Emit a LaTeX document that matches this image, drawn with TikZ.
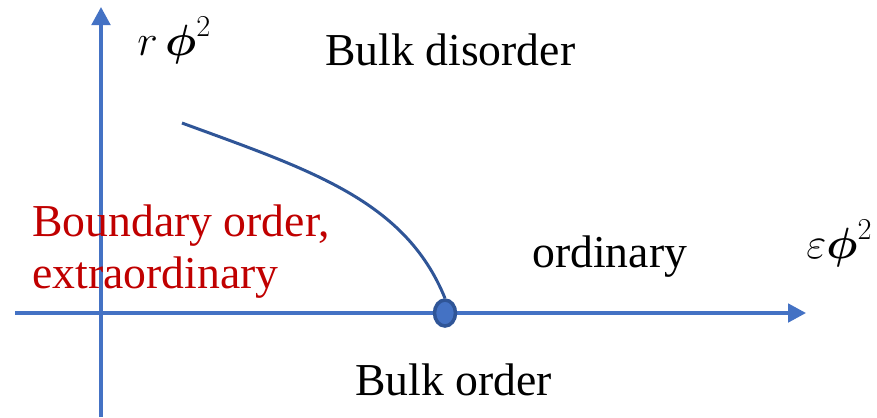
\documentclass[tikz,border=0pt]{standalone}
\usepackage{amsmath}
\usepackage{fontspec}
\setmainfont{Liberation Serif}
\usetikzlibrary{arrows.meta, shapes.geometric}
\definecolor{AxisBlue}{RGB}{68,114,196}
\definecolor{CurveBlue}{RGB}{47,85,151}
\definecolor{LabelRed}{RGB}{192,0,0}

\begin{document}
\begin{tikzpicture}[x=0.02cm, y=-0.02cm,
    axis/.style={AxisBlue, line width=2pt, -{Triangle[length=0.36cm, width=0.37cm]}},
    txt/.style={font=\fontsize{26}{29.6}\selectfont, inner sep=0pt, anchor=base west},
    mth/.style={font=\fontsize{26}{30}\selectfont, inner sep=0pt, anchor=base west}]
  \useasboundingbox (0,0) rectangle (877,417);
  % axes
  \coordinate (xstart) at (15,313);
  \coordinate (xend) at (806,313);
  \coordinate (ystart) at (101,417);
  \coordinate (yend) at (101,7);
  \draw[axis] (xstart) -- (xend);
  \draw[axis] (ystart) -- (yend);
  % phase boundary
  \coordinate (cstart) at (182,123);
  \node[ellipse, draw=CurveBlue, fill=AxisBlue, line width=2pt, inner sep=0pt,
        minimum width=0.42cm, minimum height=0.52cm] (crit) at (445,313) {};
  \draw[CurveBlue, line width=1.7pt] (cstart) .. controls (310,170) and (405,200) .. (crit.north);
  % labels
  \node[mth] (ylab) at (137,55) {$r\,\boldsymbol{\phi}^2$};
  \node[mth] (xlab) at (806,258) {$\varepsilon\boldsymbol{\phi}^2$};
  \node[txt] (disorder) at (325,65) {Bulk disorder};
  \node[txt] (ordinary) at (532,267) {ordinary};
  \node[txt] (order) at (355,395) {Bulk order};
  \node[txt, LabelRed, align=left, anchor=north west] (boundary) at (32,204)
    {Boundary order,\\extraordinary};
\end{tikzpicture}
\end{document}
